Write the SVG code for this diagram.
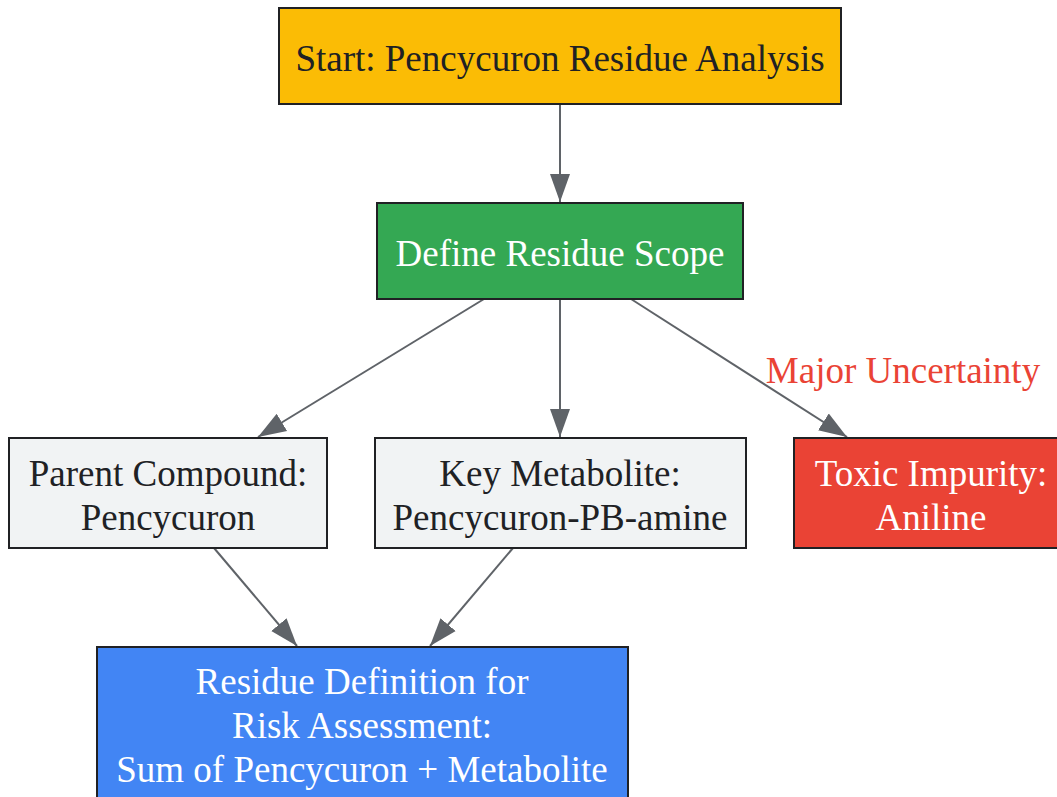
<svg xmlns="http://www.w3.org/2000/svg" width="1057" height="797" viewBox="0 0 1057 797">
<style>
.box{stroke:#202124;stroke-width:2}
.t{font-family:"Liberation Serif","Times New Roman",serif;font-size:37px;text-anchor:middle}
.dk{fill:#202124}
.wh{fill:#ffffff}
.edge{stroke:#5f6368;stroke-width:2;fill:none}
</style>
<defs>
<marker id="ah" markerUnits="userSpaceOnUse" markerWidth="30" markerHeight="24" viewBox="0 0 30 24" refX="28" refY="12" orient="auto">
<path d="M0,2 L28,12 L0,22 Z" fill="#5f6368"/>
</marker>
</defs>
<rect width="1057" height="797" fill="#ffffff"/>
<g id="connectors">
<path class="edge" d="M560,104 L560,202" marker-end="url(#ah)"/>
<path class="edge" d="M484,299 L258,437" marker-end="url(#ah)"/>
<path class="edge" d="M560,299 L560,437" marker-end="url(#ah)"/>
<path class="edge" d="M631,299 L847,437" marker-end="url(#ah)"/>
<path class="edge" d="M214,548 L297,646" marker-end="url(#ah)"/>
<path class="edge" d="M513,548 L430,646" marker-end="url(#ah)"/>
<text class="t" x="903" y="383" fill="#ea4335">Major Uncertainty</text>
</g>
<g id="start">
<rect class="box" x="279" y="8" width="562" height="96" fill="#fbbc05"/>
<text class="t dk" x="560" y="71">Start: Pencycuron Residue Analysis</text>
</g>
<g id="scope">
<rect class="box" x="377" y="203" width="366" height="96" fill="#34a853"/>
<text class="t wh" x="560" y="266">Define Residue Scope</text>
</g>
<g id="parent">
<rect class="box" x="9" y="438" width="318" height="110" fill="#f1f3f4"/>
<text class="t dk" x="168" y="486">Parent Compound:</text>
<text class="t dk" x="168" y="530">Pencycuron</text>
</g>
<g id="metabolite">
<rect class="box" x="375" y="438" width="371" height="110" fill="#f1f3f4"/>
<text class="t dk" x="560" y="486">Key Metabolite:</text>
<text class="t dk" x="560" y="530">Pencycuron-PB-amine</text>
</g>
<g id="impurity">
<rect class="box" x="794" y="438" width="275" height="110" fill="#ea4335"/>
<text class="t wh" x="931" y="486">Toxic Impurity:</text>
<text class="t wh" x="931" y="530">Aniline</text>
</g>
<g id="result">
<rect class="box" x="97" y="647" width="531" height="165" fill="#4285f4"/>
<text class="t wh" x="362" y="694">Residue Definition for</text>
<text class="t wh" x="362" y="738">Risk Assessment:</text>
<text class="t wh" x="362" y="782">Sum of Pencycuron + Metabolite</text>
</g>
</svg>
